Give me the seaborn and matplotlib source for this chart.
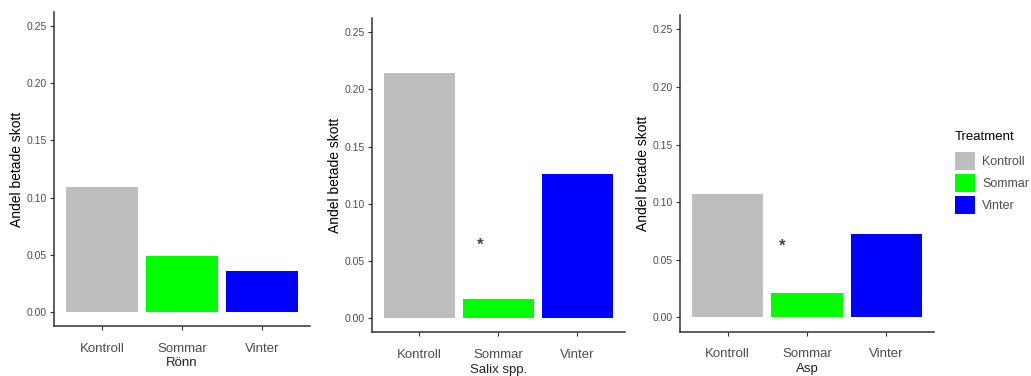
import matplotlib
matplotlib.use("Agg")
import matplotlib.pyplot as plt
import matplotlib.patches as mpatches
import seaborn as sns
import pandas as pd

# Treatment levels and colours
treatments = ["Kontroll", "Sommar", "Vinter"]
colors = ["#BEBEBE", "#00FF00", "#0000FF"]

# Share of browsed shoots per species
species = ["Rönn", "Salix spp.", "Asp"]
ronn = [0.109, 0.0487, 0.036]
salix = [0.2148, 0.0163, 0.1259]
asp = [0.1073, 0.0209, 0.0719]

# Significance markers (x in category units, y-position) per species
stars = {"Rönn": None, "Salix spp.": (0.77, 0.064), "Asp": (0.69, 0.0615)}

yticks = [0.00, 0.05, 0.10, 0.15, 0.20, 0.25]

sns.set_theme(style="ticks")
plt.rcParams["font.family"] = ["Liberation Sans", "DejaVu Sans"]

fig = plt.figure(figsize=(10.31, 3.76), dpi=100)

# [left, bottom, width, height] for each panel
positions = [
    [0.0524, 0.133, 0.2483, 0.835],
    [0.3605, 0.116, 0.2455, 0.836],
    [0.6596, 0.118, 0.2464, 0.842],
]

tick_col = "#4D4D4D"
for name, vals, pos in zip(species, [ronn, salix, asp], positions):
    ax = fig.add_axes(pos)
    df = pd.DataFrame({"Treatment": treatments, "Andel": vals})
    sns.barplot(data=df, x="Treatment", y="Andel", hue="Treatment",
                palette=colors, saturation=1, width=0.9, legend=False,
                linewidth=0, ax=ax)
    ax.set_xlim(-0.6, 2.6)
    ax.set_ylim(-0.0125, 0.2625)
    ax.set_yticks(yticks)
    ax.set_yticklabels([f"{t:.2f}" for t in yticks], fontsize=7.5, color=tick_col)
    ax.set_xticks(range(len(treatments)))
    ax.set_xticklabels(treatments, fontsize=9.5, color=tick_col)
    ax.tick_params(axis="both", length=3, width=0.8, color="#333333", pad=2)
    ax.tick_params(axis="x", pad=9)
    for s in ["top", "right"]:
        ax.spines[s].set_visible(False)
    for s in ["left", "bottom"]:
        ax.spines[s].set_color("#333333")
        ax.spines[s].set_linewidth(1.1)
    ax.set_ylabel("Andel betade skott", fontsize=10, color="black", labelpad=2)
    ax.set_xlabel(name, fontsize=9.5, color="#222222", labelpad=2)
    star = stars[name]
    if star is not None:
        ax.text(star[0], star[1], "*", ha="center", va="center",
                fontsize=12, color="#444444", fontweight="bold")

# Legend: title drawn separately so the gap below it can be set freely
fig.text(0.926, 1 - 137 / 376, "Treatment", fontsize=9.5, color="black",
         ha="left", va="center")
handles = [mpatches.Patch(facecolor=c, edgecolor="none", label=t)
           for t, c in zip(treatments, colors)]
leg = fig.legend(handles=handles, loc="upper left",
                 bbox_to_anchor=(0.926, 1 - 152 / 376), frameon=False,
                 fontsize=9, handlelength=1.65, handleheight=1.85,
                 labelspacing=0.3, handletextpad=0.55, borderpad=0,
                 borderaxespad=0)
for t in leg.get_texts():
    t.set_color(tick_col)

fig.savefig("out.png", dpi=100)
